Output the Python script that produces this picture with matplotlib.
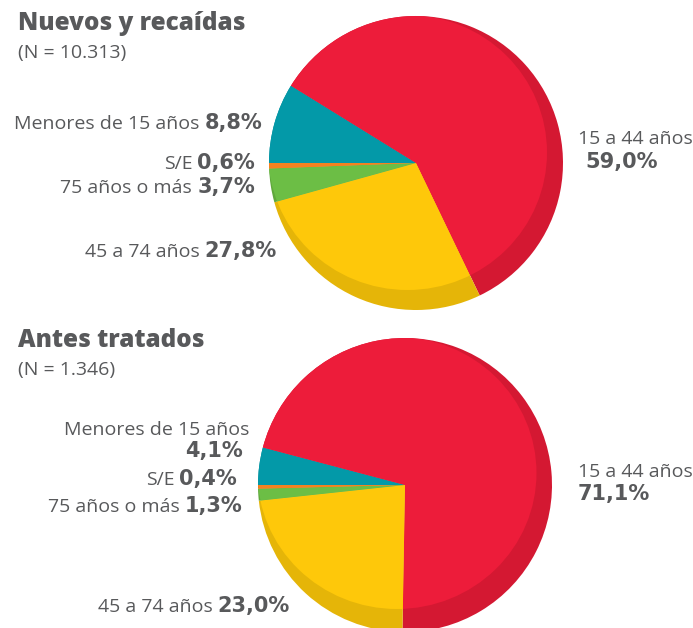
import matplotlib
matplotlib.use("Agg")
import matplotlib.pyplot as plt
from matplotlib.patches import Ellipse

plt.rcParams['font.family'] = ['Open Sans', 'DejaVu Sans']

# data: age groups, clockwise from 9 o'clock
groups = ["Menores de 15 años", "15 a 44 años", "45 a 74 años", "75 años o más", "S/E"]
nuevos = [8.8, 59.0, 27.8, 3.7, 0.6]
antes = [4.1, 71.1, 23.0, 1.3, 0.4]
titles = ["Nuevos y recaídas", "Antes tratados"]
subtitles = ["(N = 10.313)", "(N = 1.346)"]

colors = ["#0399A8", "#ED1C3A", "#FEC80A", "#6CBE45", "#F58220"]
dark = ["#038896", "#D41832", "#E5B508", "#5FA83C", "#DA7119"]
grey = "#58595B"

W, H = 693, 628
fig = plt.figure(figsize=(W / 100, H / 100), dpi=100)
ax = fig.add_axes([0, 0, 1, 1])


def Y(py):
    # pixel row -> data y (y axis points up)
    return H - py


def draw_pie(vals, cx, cy, off, ew, eh):
    R = 147
    ax.pie(vals, colors=dark, startangle=180, counterclock=False, radius=R,
           center=(cx, Y(cy)), frame=True, wedgeprops=dict(linewidth=0))
    wedges, _ = ax.pie(vals, colors=colors, startangle=180, counterclock=False, radius=R,
                       center=(cx, Y(cy)), frame=True, wedgeprops=dict(linewidth=0))
    # lighter top face, the darker rim shows at the lower right
    clip = Ellipse((cx + off[0], Y(cy + off[1])), ew, eh, transform=ax.transData)
    for w in wedges:
        w.set_clip_on(True)
        w.set_clip_path(clip)


draw_pie(nuevos, 416, 163, (-8.5, -10.5), 279, 275)
draw_pie(antes, 405, 485, (-8, -12), 279, 272)

ax.set_xlim(0, W)
ax.set_ylim(0, H)
ax.set_aspect('auto')
ax.axis('off')

fig.canvas.draw()
rend = fig.canvas.get_renderer()
LS = 14
BS = 15
BOLD = ['DejaVu Sans']


def fmt(v):
    return f"{v:.1f}%".replace('.', ',')


def label(right, base, txt, pct):
    t = ax.text(right, Y(base), pct, ha='right', va='baseline', fontsize=BS,
                fontweight='bold', family=BOLD, color=grey)
    bb = t.get_window_extent(renderer=rend)
    ax.text(bb.x0 - 5, Y(base), txt, ha='right', va='baseline', fontsize=LS, color=grey)


def plain(x, base, txt, ha='left', size=LS):
    ax.text(x, Y(base), txt, ha=ha, va='baseline', fontsize=size, color=grey)


def num(x, base, txt, ha='left'):
    ax.text(x, Y(base), txt, ha=ha, va='baseline', fontsize=BS, fontweight='bold',
            family=BOLD, color=grey)


# titles
for base_t, base_s, t, s in zip([30, 347], [58, 375], titles, subtitles):
    ax.text(18, Y(base_t), t, ha='left', va='baseline', fontsize=17.5,
            fontweight=800, color=grey)
    plain(18, base_s, s)

# chart 1 labels
label(262, 129, groups[0], fmt(nuevos[0]))
label(255, 169, groups[4], fmt(nuevos[4]))
label(255, 193, groups[3], fmt(nuevos[3]))
label(277, 257, groups[2], fmt(nuevos[2]))
plain(578, 144, groups[1])
num(585, 168, fmt(nuevos[1]))

# chart 2 labels
plain(249, 435, groups[0], ha='right')
num(243, 457, fmt(antes[0]), ha='right')
label(237, 485, groups[4], fmt(antes[4]))
label(242, 512, groups[3], fmt(antes[3]))
label(290, 612, groups[2], fmt(antes[2]))
plain(578, 477, groups[1])
num(578, 500, fmt(antes[1]))

fig.savefig("out.png", dpi=100)
